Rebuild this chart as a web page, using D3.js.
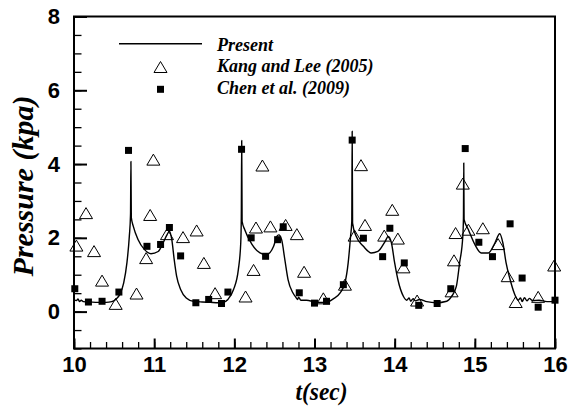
<!DOCTYPE html>
<html>
<head>
<meta charset="utf-8">
<script src="https://cdn.jsdelivr.net/npm/d3@7"></script>
<style>
  html, body { margin: 0; padding: 0; background: #fff; }
  svg { display: block; }
  .tick-label { font-family: "Liberation Sans", Arial, sans-serif; font-weight: bold; font-size: 22px; fill: #000; }
  .serif-bi { font-family: "Liberation Serif", "Times New Roman", serif; font-weight: bold; font-style: italic; fill: #000; }
</style>
</head>
<body>
<svg id="chart" width="579" height="407"></svg>
<script>
// Axis ticks and labels
const timeTicks = [10, 11, 12, 13, 14, 15, 16];
const pressureTicks = [0, 2, 4, 6, 8];
const legendLabels = ["Present", "Kang and Lee (2005)", "Chen et al. (2009)"];

// Present simulation: pressure history (kPa) over time (s)
const presentTime = [
  10.00, 10.03, 10.05, 10.07, 10.09, 10.12, 10.20, 10.30, 10.40, 10.47, 10.52, 10.57, 10.62, 10.66, 10.69,
  10.705, 10.71, 10.715, 10.74, 10.80, 10.88, 10.96, 11.05, 11.11, 11.16, 11.19, 11.22, 11.25, 11.28, 11.33,
  11.40, 11.49, 11.60, 11.70, 11.80, 11.86, 11.92, 11.99, 12.05, 12.08,
  12.087, 12.092, 12.097, 12.13, 12.22, 12.32, 12.40, 12.49, 12.53, 12.555, 12.59, 12.63, 12.67, 12.73,
  12.77, 12.79, 12.80, 12.83, 12.90, 13.03, 13.15, 13.23, 13.32, 13.38, 13.42, 13.45,
  13.465, 13.47, 13.475, 13.52, 13.61, 13.71, 13.79, 13.88, 13.92, 13.96, 14.00, 14.04, 14.11, 14.15,
  14.18, 14.20, 14.23, 14.26, 14.31, 14.40, 14.52, 14.65, 14.71, 14.77, 14.81, 14.85,
  14.858, 14.862, 14.866, 14.92, 15.00, 15.08, 15.17, 15.25, 15.31, 15.35, 15.39, 15.44, 15.49, 15.54,
  15.57, 15.59, 15.62, 15.65, 15.68, 15.72, 15.80, 15.90, 16.00
];
const presentPressure = [
  0.32, 0.30, 0.34, 0.27, 0.31, 0.27, 0.26, 0.25, 0.25, 0.27, 0.33, 0.46, 0.78, 1.32, 2.04,
  2.63, 4.07, 2.55, 2.31, 1.95, 1.68, 1.57, 1.63, 1.86, 2.08, 2.18, 1.95, 1.41, 0.96, 0.60,
  0.37, 0.28, 0.26, 0.25, 0.24, 0.25, 0.33, 0.60, 1.14, 1.86,
  2.57, 4.64, 2.45, 2.22, 1.82, 1.59, 1.54, 1.77, 2.04, 2.08, 1.95, 1.41, 0.87, 0.51,
  0.38, 0.33, 0.39, 0.31, 0.31, 0.25, 0.25, 0.34, 0.51, 0.78, 1.32, 2.04,
  2.45, 4.89, 2.40, 2.04, 1.77, 1.59, 1.63, 1.90, 2.04, 1.86, 1.32, 0.87, 0.41, 0.31,
  0.37, 0.28, 0.35, 0.29, 0.33, 0.27, 0.24, 0.28, 0.41, 0.69, 1.32, 2.04,
  2.54, 4.03, 2.50, 2.22, 1.82, 1.59, 1.59, 1.86, 2.11, 1.86, 1.32, 0.87, 0.51, 0.31,
  0.37, 0.27, 0.38, 0.29, 0.36, 0.30, 0.31, 0.27, 0.27
];

// Kang and Lee (2005)
const kangTime = [
  10.03, 10.15, 10.25, 10.35, 10.52, 10.78, 10.90, 10.95, 10.99, 11.16, 11.36, 11.53, 11.62, 11.76,
  12.14, 12.24, 12.27, 12.35, 12.45, 12.64, 12.78, 12.87, 13.11, 13.38, 13.50, 13.58, 13.63, 13.87,
  13.97, 14.04, 14.11, 14.28, 14.71, 14.74, 14.76, 14.85, 14.92, 15.10, 15.29, 15.41, 15.51, 15.79, 15.99
];
const kangPressure = [
  1.79, 2.67, 1.64, 0.84, 0.21, 0.49, 1.45, 2.62, 4.12, 2.10, 2.02, 2.20, 1.32, 0.50,
  0.41, 1.13, 2.28, 3.96, 2.31, 2.35, 2.10, 1.08, 0.36, 0.73, 2.06, 3.97, 2.35, 2.06,
  2.76, 1.98, 1.20, 0.30, 0.55, 1.39, 2.13, 3.47, 2.22, 2.26, 1.83, 0.96, 0.26, 0.40, 1.25
];

// Chen et al. (2009)
const chenTime = [
  10.01, 10.18, 10.35, 10.56, 10.68, 10.91, 11.08, 11.19, 11.33, 11.52, 11.68, 11.84, 11.92,
  12.09, 12.21, 12.39, 12.54, 12.61, 12.81, 13.00, 13.15, 13.36, 13.47, 13.61, 13.85, 13.94,
  14.12, 14.30, 14.53, 14.70, 14.88, 15.05, 15.22, 15.44, 15.59, 15.79, 16.00
];
const chenPressure = [
  0.62, 0.26, 0.28, 0.53, 4.37, 1.77, 1.82, 2.28, 1.51, 0.24, 0.33, 0.22, 0.53,
  4.40, 2.00, 1.50, 1.95, 2.30, 0.51, 0.23, 0.28, 0.73, 4.65, 1.99, 1.49, 2.26,
  1.32, 0.17, 0.22, 0.62, 4.42, 1.88, 1.49, 2.38, 0.91, 0.12, 0.31
];

const svg = d3.select("#chart");
const plotLeft = 74, plotRight = 555, plotTop = 16.5, plotBottom = 348.5;

const x = d3.scaleLinear().domain([10, 16]).range([plotLeft, plotRight]);
const y = d3.scaleLinear().domain([-1, 8]).range([plotBottom, plotTop]);

// Minor ticks (inward)
const xMinor = d3.range(10, 16.001, 0.2).map(v => +v.toFixed(1));
const yMinor = d3.range(-1, 8.001, 0.5);

svg.append("g")
  .attr("transform", `translate(0,${plotBottom})`)
  .call(d3.axisBottom(x).tickValues(xMinor).tickSize(-6.5).tickFormat(""))
  .call(g => g.select(".domain").remove())
  .call(g => g.selectAll("line").attr("stroke", "#000").attr("stroke-width", 1.3));

svg.append("g")
  .attr("transform", `translate(${plotLeft},0)`)
  .call(d3.axisLeft(y).tickValues(yMinor).tickSize(-7.5).tickFormat(""))
  .call(g => g.select(".domain").remove())
  .call(g => g.selectAll("line").attr("stroke", "#000").attr("stroke-width", 1.3));

// Major ticks with labels
svg.append("g")
  .attr("transform", `translate(0,${plotBottom})`)
  .call(d3.axisBottom(x).tickValues(timeTicks).tickSize(-10).tickPadding(8).tickFormat(d3.format("d")))
  .call(g => g.select(".domain").remove())
  .call(g => g.selectAll("line").attr("stroke", "#000").attr("stroke-width", 2))
  .call(g => g.selectAll("text").attr("class", "tick-label").attr("font-size", null).attr("font-family", null).attr("fill", null));

svg.append("g")
  .attr("transform", `translate(${plotLeft},0)`)
  .call(d3.axisLeft(y).tickValues(pressureTicks).tickSize(-13).tickPadding(14).tickFormat(d3.format("d")))
  .call(g => g.select(".domain").remove())
  .call(g => g.selectAll("line").attr("stroke", "#000").attr("stroke-width", 2))
  .call(g => g.selectAll("text").attr("class", "tick-label").attr("font-size", null).attr("font-family", null).attr("fill", null));

// Frame
svg.append("rect")
  .attr("x", plotLeft).attr("y", plotTop)
  .attr("width", plotRight - plotLeft).attr("height", plotBottom - plotTop)
  .attr("fill", "none").attr("stroke", "#000").attr("stroke-width", 2);

// Present line
const presentData = presentTime.map((t, i) => [t, presentPressure[i]]);
svg.append("path")
  .datum(presentData)
  .attr("fill", "none")
  .attr("stroke", "#000")
  .attr("stroke-width", 1.4)
  .attr("stroke-linejoin", "round")
  .attr("d", d3.line().x(d => x(d[0])).y(d => y(d[1])).curve(d3.curveMonotoneX));

// Marker shapes
const triPath = "M0,-5.5L6.5,5.5L-6.5,5.5Z";

svg.append("g").selectAll("path")
  .data(kangTime.map((t, i) => [t, kangPressure[i]]))
  .join("path")
  .attr("d", triPath)
  .attr("transform", d => `translate(${x(d[0])},${y(d[1])})`)
  .attr("fill", "none")
  .attr("stroke", "#000")
  .attr("stroke-width", 1);

svg.append("g").selectAll("rect")
  .data(chenTime.map((t, i) => [t, chenPressure[i]]))
  .join("rect")
  .attr("x", d => x(d[0]) - 3.5)
  .attr("y", d => y(d[1]) - 3.5)
  .attr("width", 7).attr("height", 7)
  .attr("fill", "#000");

// Legend
const legend = svg.append("g");
legend.append("line")
  .attr("x1", 119).attr("x2", 202).attr("y1", 43.7).attr("y2", 43.7)
  .attr("stroke", "#000").attr("stroke-width", 1.4);
legend.append("path")
  .attr("d", triPath)
  .attr("transform", "translate(160.5,67)")
  .attr("fill", "none").attr("stroke", "#000").attr("stroke-width", 1);
legend.append("rect")
  .attr("x", 157).attr("y", 85.8).attr("width", 7).attr("height", 7)
  .attr("fill", "#000");
legend.selectAll("text")
  .data(legendLabels)
  .join("text")
  .attr("class", "serif-bi")
  .attr("x", 217)
  .attr("y", (d, i) => 50.5 + i * 21.8)
  .attr("font-size", 18)
  .text(d => d);

// Axis titles
svg.append("text")
  .attr("class", "serif-bi")
  .attr("font-size", 30)
  .attr("text-anchor", "middle")
  .attr("transform", "translate(33,186) rotate(-90)")
  .text("Pressure (kpa)");

svg.append("text")
  .attr("class", "serif-bi")
  .attr("font-size", 26)
  .attr("text-anchor", "middle")
  .attr("transform", "translate(321.5,399.5) scale(0.9,1)")
  .text("t(sec)");
</script>
</body>
</html>
